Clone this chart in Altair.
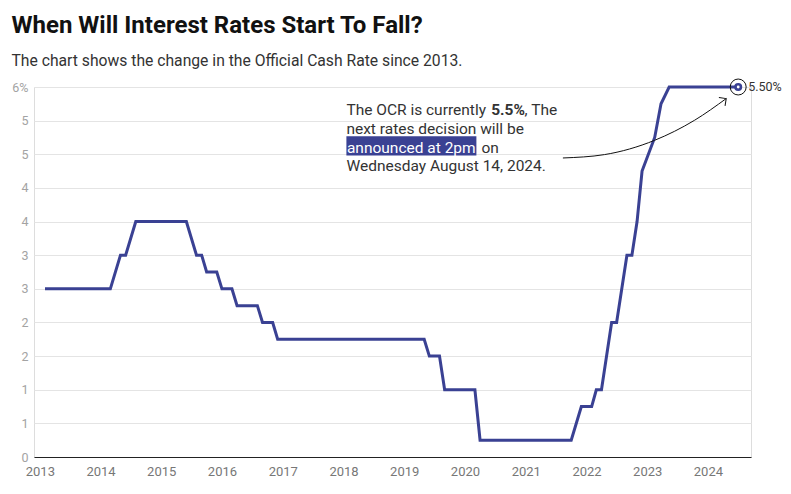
import altair as alt
import pandas as pd

# Official Cash Rate (%), corner points
dates = [
    "2013-02-01", "2014-03-01", "2014-05-01", "2014-06-01", "2014-08-01",
    "2015-06-01", "2015-08-01", "2015-09-01", "2015-10-01", "2015-12-01",
    "2016-01-01", "2016-03-01", "2016-04-01", "2016-08-01", "2016-09-01",
    "2016-11-01", "2016-12-01", "2019-05-01", "2019-06-01", "2019-08-01",
    "2019-09-01", "2020-03-01", "2020-04-01", "2021-10-01", "2021-12-01",
    "2022-02-01", "2022-03-01", "2022-04-01", "2022-06-01", "2022-07-01",
    "2022-09-01", "2022-10-01", "2022-11-01", "2022-12-01", "2023-02-15",
    "2023-03-25", "2023-05-13", "2024-07-01",
]
rates = [
    2.5, 2.5, 3.0, 3.0, 3.5,
    3.5, 3.0, 3.0, 2.75, 2.75,
    2.5, 2.5, 2.25, 2.25, 2.0,
    2.0, 1.75, 1.75, 1.5, 1.5,
    1.0, 1.0, 0.25, 0.25, 0.75,
    0.75, 1.0, 1.0, 2.0, 2.0,
    3.0, 3.0, 3.5, 4.25, 4.75,
    5.25, 5.5, 5.5,
]
y_ticks = [0.0, 0.5, 1.0, 1.5, 2.0, 2.5, 3.0, 3.5, 4.0, 4.5, 5.0, 5.5]

# annotation arrow path (control points in data space)
arrow_dates = ["2021-08-12", "2022-04-19", "2023-02-15", "2023-10-13", "2024-04-20"]
arrow_vals = [4.445, 4.495, 4.708, 5.006, 5.328]

NAVY = "#3a4193"
FONT = "Roboto"

df = pd.DataFrame({"date": dates, "rate": rates})
arrow_df = pd.DataFrame({"date": arrow_dates, "rate": arrow_vals,
                         "o": list(range(len(arrow_dates)))})
tip_df = pd.DataFrame({"date": [arrow_dates[-1]], "rate": [arrow_vals[-1]]})
end_df = pd.DataFrame({"date": [dates[-1]], "rate": [rates[-1]],
                       "label": [f"{rates[-1]:.2f}%"]})

x_enc = alt.X(
    "date:T",
    scale=alt.Scale(domain=[alt.DateTime(year=2012, month=11, date=27),
                            alt.DateTime(year=2024, month=9, date=16)]),
    axis=alt.Axis(format="%Y", tickCount={"interval": "year", "step": 1},
                  grid=False, ticks=False, domain=True, domainColor="#222222",
                  domainWidth=1, labelColor="#777777", labelFontSize=13,
                  labelPadding=8, title=None, labelFont=FONT),
)
y_enc = alt.Y(
    "rate:Q",
    scale=alt.Scale(domain=[0, 5.5], nice=False, zero=True),
    axis=alt.Axis(values=y_ticks,
                  labelExpr="datum.value >= 5.5 ? '6%' : format(datum.value, '.0f')",
                  ticks=False, domain=False, grid=True, gridColor="#e4e4e4",
                  labelColor="#a3a3a3", labelFontSize=12.5, labelPadding=6,
                  labelOverlap=False, title=None, labelFont=FONT),
)

line = alt.Chart(df).mark_line(color=NAVY, strokeWidth=3).encode(x=x_enc, y=y_enc)

arrow = alt.Chart(arrow_df).mark_line(color="#111111", strokeWidth=1,
                                      interpolate="monotone").encode(
    x=x_enc, y=y_enc, order="o:Q")
arrow_head = alt.Chart(tip_df).mark_point(
    shape="M -1 1 L 0 0 L 1 1", filled=False, stroke="#111111", strokeWidth=1,
    size=110, angle=54, opacity=1).encode(x=x_enc, y=y_enc)

end_outer = alt.Chart(end_df).mark_point(
    shape="circle", filled=False, stroke="#111111", strokeWidth=1, size=254,
    opacity=1).encode(x=x_enc, y=y_enc)
end_inner = alt.Chart(end_df).mark_point(
    shape="circle", filled=True, fill="white", stroke=NAVY, strokeWidth=2.6,
    size=30, opacity=1).encode(x=x_enc, y=y_enc)
end_label = alt.Chart(end_df).mark_text(
    align="left", baseline="middle", dx=10, fontSize=12.5, color="#333333",
    font=FONT).encode(x=x_enc, y=y_enc, text="label:N")


def txt(s, x, y, weight="normal", color="#333333"):
    return alt.Chart(pd.DataFrame({"t": [s]})).mark_text(
        align="left", baseline="alphabetic", fontSize=15.5, font=FONT,
        fontWeight=weight, color=color).encode(
        x=alt.value(x), y=alt.value(y), text="t:N")


highlight = alt.Chart(pd.DataFrame({"k": [0]})).mark_rect(color=NAVY).encode(
    x=alt.value(312.4), x2=alt.value(442.4), y=alt.value(49.3), y2=alt.value(68.6))

notes = [
    txt("The OCR is currently", 312.4, 28.3),
    txt("5.5%", 457.2, 28.3, weight="bold"),
    txt(", The", 490.6, 28.3),
    txt("next rates decision will be", 312.4, 46.8),
    txt("announced at 2pm", 312.9, 65.5, color="white"),
    txt("on", 447.4, 65.5),
    txt("Wednesday August 14, 2024.", 312.4, 84.3),
]

title = alt.TitleParams(
    text="When Will Interest Rates Start To Fall?",
    subtitle="The chart shows the change in the Official Cash Rate since 2013.",
    anchor="start", frame="group", orient="top",
    font=FONT, fontSize=24, fontWeight="bold", color="#111111",
    subtitleFont=FONT, subtitleFontSize=15.7, subtitleColor="#333333",
    subtitlePadding=16, offset=8.5, dx=-22.5,
)

chart = alt.layer(
    line, highlight, arrow, arrow_head, end_outer, end_inner, end_label, *notes
).properties(
    width=717, height=370, title=title,
    padding={"left": 26, "top": 79, "right": 32, "bottom": 24},
    autosize=alt.AutoSizeParams(type="none"),
).configure_view(stroke=None).configure(font=FONT)

chart.save("out.html", embed_options={"renderer": "svg", "actions": False})
